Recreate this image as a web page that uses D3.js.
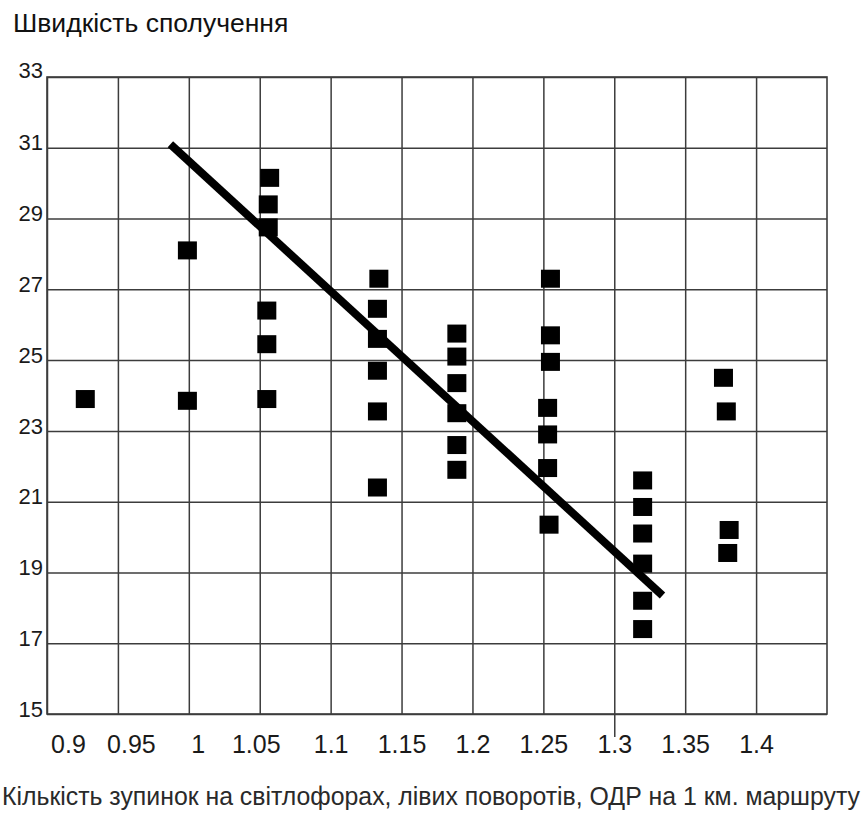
<!DOCTYPE html>
<html>
<head>
<meta charset="utf-8">
<script src="https://cdn.jsdelivr.net/npm/d3@7"></script>
<style>
  body { margin: 0; background: #fff; }
  text { font-family: "Liberation Sans", Arial, sans-serif; }
</style>
</head>
<body>
<svg id="chart" width="868" height="815"></svg>
<script>
const title = 'Швидкість сполучення';
const xLabel = 'Кількість зупинок на світлофорах, лівих поворотів, ОДР на 1 км. маршруту';

const xTicks = [0.9, 0.95, 1, 1.05, 1.1, 1.15, 1.2, 1.25, 1.3, 1.35, 1.4];
const yTicks = [15, 17, 19, 21, 23, 25, 27, 29, 31, 33];

// observations (x = stops per km, y = speed)
const pointX = [
  0.927, 0.999, 0.999,
  1.057, 1.056, 1.056, 1.055, 1.055, 1.055,
  1.134, 1.133, 1.133, 1.133, 1.133, 1.133,
  1.189, 1.189, 1.189, 1.189, 1.189, 1.189,
  1.255, 1.255, 1.255, 1.253, 1.253, 1.253, 1.254,
  1.320, 1.320, 1.320, 1.320, 1.320, 1.320,
  1.377, 1.379, 1.381, 1.380
];
const pointY = [
  23.9, 28.1, 23.85,
  30.15, 29.4, 28.75, 26.4, 25.45, 23.9,
  27.3, 26.45, 25.6, 24.7, 23.55, 21.4,
  25.75, 25.1, 24.35, 23.5, 22.6, 21.9,
  27.3, 25.7, 24.95, 23.65, 22.9, 21.95, 20.35,
  21.6, 20.85, 20.1, 19.25, 18.2, 17.4,
  24.5, 23.55, 20.2, 19.55
];

// fitted line end points
const trendX = [0.987, 1.334];
const trendY = [31.1, 18.35];

const svg = d3.select('#chart');
const margin = { left: 47, right: 41, top: 77, bottom: 101 };
const width = 868 - margin.left - margin.right;
const height = 815 - margin.top - margin.bottom;

const xScale = d3.scaleLinear().domain([0.9, 1.45]).range([0, width]);
const yScale = d3.scaleLinear().domain([15, 33]).range([height, 0]);

const chart = svg.append('g')
  .attr('transform', `translate(${margin.left},${margin.top})`);

svg.append('text')
  .attr('x', 13)
  .attr('y', 32)
  .style('font-size', '26.5px')
  .style('fill', '#111')
  .text(title);

// gridlines via axes
const xAxis = d3.axisBottom(xScale)
  .tickValues(xTicks)
  .tickSize(-height)
  .tickFormat(d => String(d));
const xAxisG = chart.append('g')
  .attr('transform', `translate(0,${height})`)
  .call(xAxis);

const yAxis = d3.axisLeft(yScale)
  .tickValues(yTicks)
  .tickSize(-width)
  .tickFormat(d => String(d));
const yAxisG = chart.append('g').call(yAxis);

[xAxisG, yAxisG].forEach(g => {
  g.select('.domain').remove();
  g.selectAll('.tick line')
    .attr('stroke', '#3c3c3c')
    .attr('stroke-width', 1.5);
  g.selectAll('.tick text')
    .attr('fill', '#1a1a1a')
    .style('font-family', '"Liberation Sans", Arial, sans-serif');
});

// the original print has the first few x labels nudged right
const labelShift = { 0.9: 21, 0.95: 13, 1: 9, 1.05: -4 };
xAxisG.selectAll('.tick text')
  .style('font-size', '25px')
  .attr('y', 21)
  .attr('dy', '0.71em')
  .attr('dx', d => labelShift[d] || 0);
// the 1.3 gridline runs on past the frame in the original
xAxisG.selectAll('.tick line')
  .attr('y1', d => d === 1.3 ? 23 : 0)
  .attr('y2', -height);

yAxisG.selectAll('.tick text')
  .style('font-size', '22px')
  .attr('x', -4)
  .attr('dy', d => d === 33 ? '0' : '0.1em')
  .style('dominant-baseline', 'alphabetic');

chart.append('rect')
  .attr('width', width)
  .attr('height', height)
  .attr('fill', 'none')
  .attr('stroke', '#3c3c3c')
  .attr('stroke-width', 1.6);

const sqW = 19, sqH = 18;
chart.selectAll('rect.pt')
  .data(pointX.map((x, i) => ({ x: x, y: pointY[i] })))
  .enter().append('rect')
  .attr('class', 'pt')
  .attr('x', d => xScale(d.x) - sqW / 2)
  .attr('y', d => yScale(d.y) - sqH / 2)
  .attr('width', sqW)
  .attr('height', sqH)
  .attr('fill', '#000');

const line = d3.line()
  .x(d => xScale(d[0]))
  .y(d => yScale(d[1]));
chart.append('path')
  .datum(trendX.map((x, i) => [x, trendY[i]]))
  .attr('d', line)
  .attr('fill', 'none')
  .attr('stroke', '#000')
  .attr('stroke-width', 8);

// axis title squeezed to fit the page width
svg.append('text')
  .attr('x', 2)
  .attr('y', 805)
  .attr('textLength', 858)
  .attr('lengthAdjust', 'spacingAndGlyphs')
  .style('font-size', '25px')
  .style('fill', '#2a2a2a')
  .text(xLabel);
</script>
</body>
</html>
